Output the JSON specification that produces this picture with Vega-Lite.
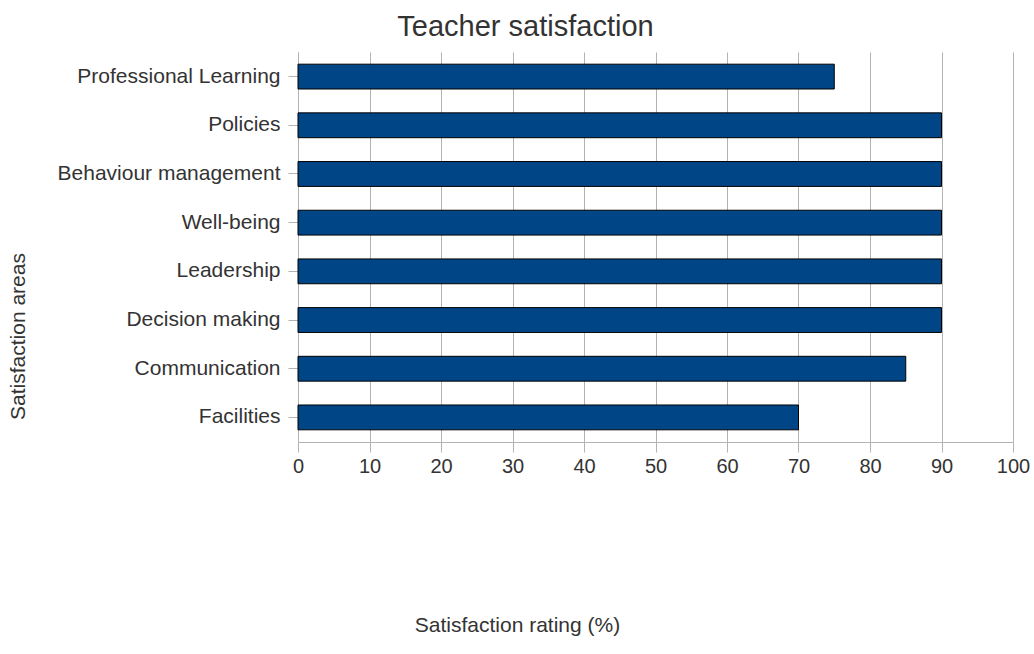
{
  "$schema": "https://vega.github.io/schema/vega-lite/v6.json",
  "autosize": {"type": "none"},
  "width": 715,
  "height": 390,
  "padding": {"left": 298, "top": 52, "right": 21, "bottom": 212},
  "background": "white",
  "title": {
    "text": "Teacher satisfaction",
    "font": "Liberation Sans",
    "fontSize": 29,
    "fontWeight": "normal",
    "color": "#333333",
    "anchor": "middle",
    "frame": "group",
    "dx": -130,
    "dy": -6
  },
  "data": {
    "values": [
      {"area": "Professional Learning", "rating": 75},
      {"area": "Policies", "rating": 90},
      {"area": "Behaviour management", "rating": 90},
      {"area": "Well-being", "rating": 90},
      {"area": "Leadership", "rating": 90},
      {"area": "Decision making", "rating": 90},
      {"area": "Communication ", "rating": 85},
      {"area": "Facilities", "rating": 70}
    ]
  },
  "mark": {"type": "bar", "color": "#004586", "stroke": "#000000", "strokeWidth": 1},
  "encoding": {
    "y": {
      "field": "area",
      "type": "nominal",
      "sort": null,
      "scale": {"paddingInner": 0.49, "paddingOuter": 0.25},
      "axis": {
        "title": "Satisfaction areas",
        "titleFont": "Liberation Sans",
        "titleFontSize": 21,
        "titleFontWeight": "normal",
        "titleColor": "#333333",
        "titleX": -280,
        "titleY": 284,
        "titleAlign": "center",
        "titleBaseline": "middle",
        "titleAngle": 270,
        "labelFont": "Liberation Sans",
        "labelFontSize": 21,
        "labelLimit": 300,
        "labelColor": "#333333",
        "labelPadding": 8,
        "tickSize": 10,
        "tickColor": "#b3b3b3",
        "domainColor": "#b3b3b3",
        "grid": false
      }
    },
    "x": {
      "field": "rating",
      "type": "quantitative",
      "scale": {"domain": [0, 100], "nice": false},
      "axis": {
        "title": "Satisfaction rating (%)",
        "titleFont": "Liberation Sans",
        "titleFontSize": 21,
        "titleFontWeight": "normal",
        "titleColor": "#333333",
        "titleX": 219,
        "titleY": 183,
        "titleAlign": "center",
        "titleBaseline": "middle",
        "values": [0, 10, 20, 30, 40, 50, 60, 70, 80, 90, 100],
        "labelFont": "Liberation Sans",
        "labelFontSize": 20,
        "labelColor": "#333333",
        "labelPadding": 4,
        "labelFlush": false,
        "tickSize": 10,
        "tickColor": "#b3b3b3",
        "domainColor": "#b3b3b3",
        "grid": true,
        "gridColor": "#b3b3b3",
        "gridOpacity": 1
      }
    }
  },
  "config": {"view": {"stroke": null}}
}
